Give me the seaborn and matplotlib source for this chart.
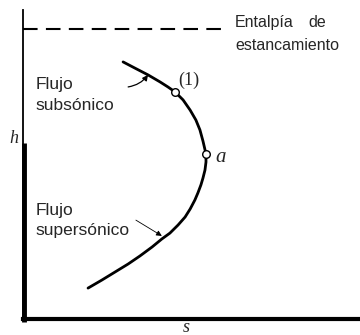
import matplotlib
matplotlib.use("Agg")
import matplotlib.pyplot as plt
import seaborn as sns
import pandas as pd

# curve h-s
s_curve = [2.97, 3.32, 3.71, 4.07, 4.30, 4.51, 4.75, 4.96, 5.13, 5.25, 5.34, 5.43, 5.43, 5.40,
           5.34, 5.28, 5.19, 5.10, 4.96, 4.81, 4.60, 4.36, 4.12, 3.83, 3.47, 3.12, 2.73, 2.34, 1.93]
h_curve = [8.32, 8.12, 7.90, 7.67, 7.51, 7.35, 7.09, 6.76, 6.44, 6.12, 5.76, 5.34, 5.08, 4.82,
           4.56, 4.34, 4.08, 3.85, 3.56, 3.30, 3.04, 2.78, 2.59, 2.33, 2.04, 1.78, 1.52, 1.26, 1.00]

# marked states
point_labels = ["(1)", "a"]
s_points = [4.51, 5.43]
h_points = [7.35, 5.34]

# stagnation enthalpy
h_stag = 9.39
s_stag_end = 6.08

sns.set_style("white")
plt.rcParams["font.family"] = ["Liberation Sans", "DejaVu Sans"]

fig = plt.figure(figsize=(3.6, 3.35), dpi=100)
ax = fig.add_axes([23/360, 16/335, 1 - 23/360, (325 - 16)/335])

df = pd.DataFrame({"s": s_curve, "h": h_curve})
sns.lineplot(data=df, x="s", y="h", sort=False, estimator=None, color="black", lw=2.0, ax=ax)
sns.scatterplot(x=s_points, y=h_points, marker="o", s=30, facecolor="white",
                edgecolor="black", linewidth=1.0, zorder=5, ax=ax)

ax.plot([0, s_stag_end], [h_stag, h_stag], color="black", lw=1.5, dashes=(7, 4))

ax.set_xlim(0, 10)
ax.set_ylim(0, 10)
ax.set_xticks([])
ax.set_yticks([])
ax.set_xlabel("")
ax.set_ylabel("")
for side in ["top", "right"]:
    ax.spines[side].set_visible(False)
ax.spines["left"].set_linewidth(1.3)
ax.spines["left"].set_color("black")
ax.spines["bottom"].set_linewidth(3.0)
ax.spines["bottom"].set_color("black")
# thick lower part of the h axis
ax.plot([0.03, 0.03], [-0.1, 5.71], color="black", lw=3.5, clip_on=False, solid_capstyle="butt")

# texts
ax.text(6.29, 9.45, "Entalpía", fontsize=11.5, ha="left", va="baseline")
ax.text(8.46, 9.45, "de", fontsize=11.5, ha="left", va="baseline")
ax.text(6.29, 8.71, "estancamiento", fontsize=11.5, ha="left", va="baseline")

ax.text(0.36, 7.44, "Flujo", fontsize=12.5, ha="left", va="baseline")
ax.text(0.36, 6.76, "subsónico", fontsize=12.5, ha="left", va="baseline")
ax.text(0.36, 3.36, "Flujo", fontsize=12.5, ha="left", va="baseline")
ax.text(0.36, 2.72, "supersónico", fontsize=12.5, ha="left", va="baseline")

ax.text(4.62, 7.57, point_labels[0], fontsize=13, family=["Liberation Serif", "DejaVu Serif"],
        ha="left", va="baseline")
ax.text(5.70, 5.08, point_labels[1], fontsize=15, family=["Liberation Serif", "DejaVu Serif"],
        style="italic", ha="left", va="baseline")

ax.text(-0.27, 5.70, "h", fontsize=13, family=["Liberation Serif", "DejaVu Serif"],
        style="italic", ha="center", va="baseline", clip_on=False)
ax.text(4.84, -0.42, "s", fontsize=13, family=["Liberation Serif", "DejaVu Serif"],
        style="italic", ha="center", va="baseline", clip_on=False)

# arrows
ax.annotate("", xy=(3.71, 7.90), xytext=(3.12, 7.51),
            arrowprops=dict(arrowstyle="-|>", color="black", lw=0.9, mutation_scale=8,
                            connectionstyle="arc3,rad=0.2", shrinkA=0, shrinkB=0))
ax.annotate("", xy=(4.12, 2.69), xytext=(3.35, 3.20),
            arrowprops=dict(arrowstyle="-|>", color="black", lw=0.6, mutation_scale=8,
                            shrinkA=0, shrinkB=0))

fig.savefig("out.png", dpi=100)
